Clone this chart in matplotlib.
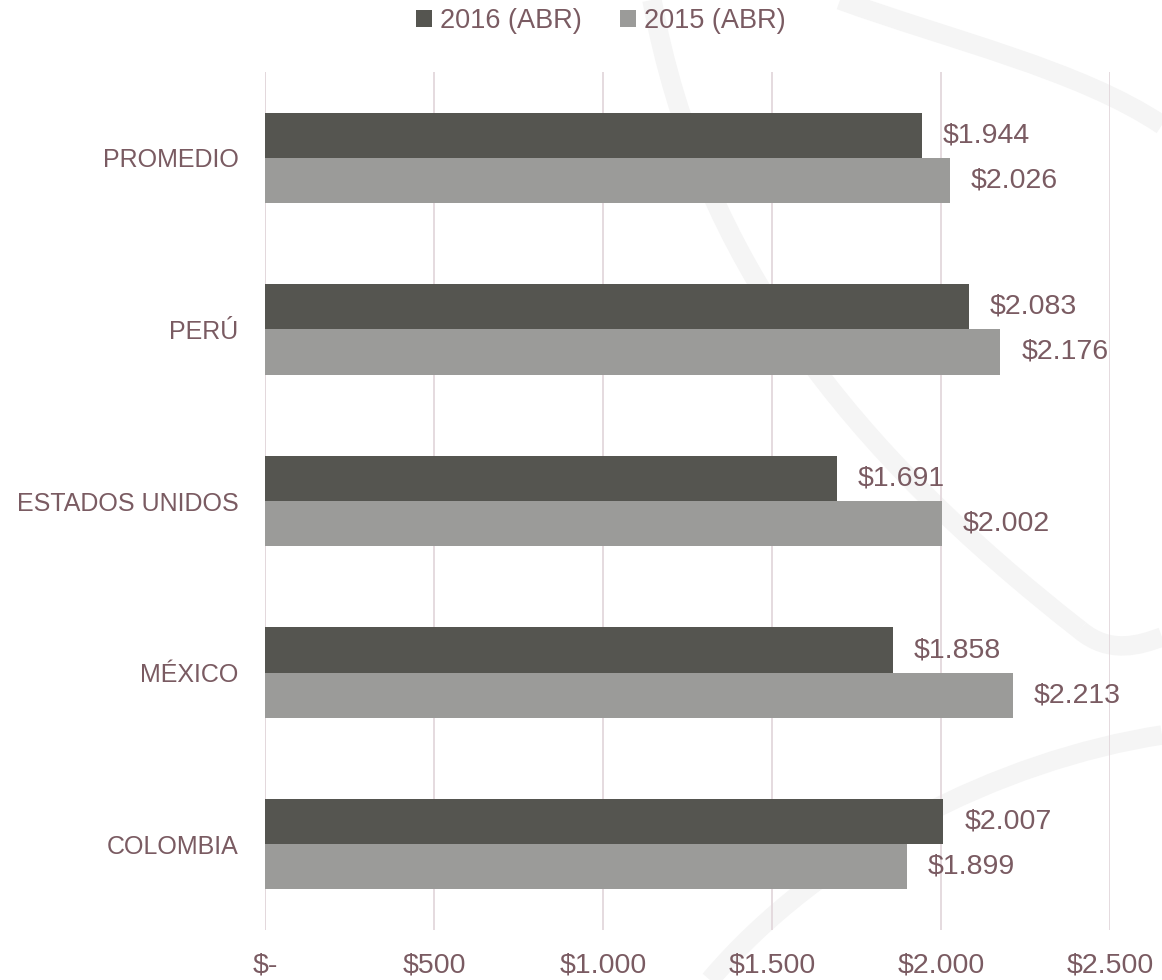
import numpy as np
import matplotlib.pyplot as plt
from matplotlib.path import Path
from matplotlib.patches import PathPatch

categories = ['PROMEDIO', 'PERÚ', 'ESTADOS UNIDOS', 'MÉXICO', 'COLOMBIA']
vals_2016 = [1944, 2083, 1691, 1858, 2007]
vals_2015 = [2026, 2176, 2002, 2213, 1899]
series_names = ['2016 (ABR)', '2015 (ABR)']
xticks = [0, 500, 1000, 1500, 2000, 2500]
xtick_labels = ['$-', '$500', '$1.000', '$1.500', '$2.000', '$2.500']

txt_color = '#7a5b62'
dark = '#555550'
light = '#9b9b99'
grid_c = '#e3d8dc'

plt.rcParams['font.family'] = ['Liberation Sans', 'DejaVu Sans']
narrow = ['Liberation Sans Narrow', 'Liberation Sans', 'DejaVu Sans']

fig = plt.figure(figsize=(11.62, 9.8), dpi=100)

# faint decorative swooshes in the background (figure pixel coords)
W, H = 1162, 980
def swoosh(pts, lw):
    pts = [(x / W, 1 - y / H) for x, y in pts]
    codes = [Path.MOVETO] + [Path.CURVE4] * (len(pts) - 1)
    fig.patches.append(PathPatch(Path(pts, codes), transform=fig.transFigure,
                                 facecolor='none', edgecolor='#f5f5f5', lw=lw, zorder=-1))

swoosh([(652, 0), (700, 260), (850, 450), (1080, 630)], 14)
swoosh([(1080, 630), (1110, 655), (1140, 645), (1162, 637)], 14)
swoosh([(840, 0), (950, 40), (1080, 70), (1162, 125)], 14)
swoosh([(710, 980), (820, 850), (1000, 760), (1162, 735)], 14)

ax = fig.add_axes([265 / W, 1 - 930 / H, 845 / W, (930 - 72) / H])
ax.set_facecolor('none')

y = np.arange(len(categories))
h = 0.263
b1 = ax.barh(y - h / 2, vals_2016, height=h, color=dark, label=series_names[0], zorder=2)
b2 = ax.barh(y + h / 2, vals_2015, height=h, color=light, label=series_names[1], zorder=2)

for bars, vals in ((b1, vals_2016), (b2, vals_2015)):
    for rect, v in zip(bars, vals):
        ax.annotate('${:,}'.format(v).replace(',', '.'),
                    (v, rect.get_y() + rect.get_height() / 2),
                    xytext=(15, 0), textcoords='offset points',
                    va='center', ha='left', fontsize=20.5, color=txt_color)

ax.set_xlim(0, 2500)
ax.set_ylim(len(categories) - 0.5, -0.5)
ax.set_yticks(y)
ax.set_yticklabels(categories, fontsize=18, color=txt_color, family=narrow)
ax.set_xticks(xticks)
ax.set_xticklabels(xtick_labels, fontsize=20.5, color=txt_color)
ax.tick_params(axis='y', length=0, pad=19)
ax.tick_params(axis='x', length=0, pad=16)
ax.xaxis.grid(True, color=grid_c, lw=1.3, zorder=0)
for s in ax.spines.values():
    s.set_visible(False)
ax.axvline(0, color=grid_c, lw=1.3, zorder=1)

leg = fig.legend(handles=[b1, b2], labels=series_names, loc='upper center',
                 bbox_to_anchor=(0.517, 1.017), ncol=2, frameon=False,
                 fontsize=19.5, handlelength=0.6, handleheight=0.6,
                 handletextpad=0.3, columnspacing=1.4)
for t in leg.get_texts():
    t.set_color(txt_color)

fig.savefig('out.png', dpi=100, facecolor='white')
